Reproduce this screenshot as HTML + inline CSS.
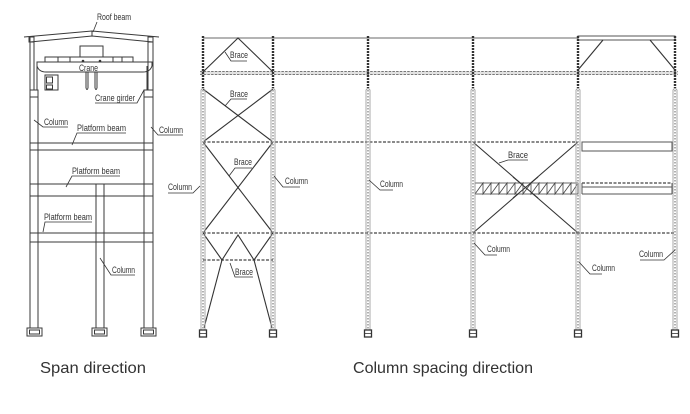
<!DOCTYPE html>
<html>
<head>
<meta charset="utf-8">
<style>
html,body{margin:0;padding:0;background:#fff;}
svg{display:block;}
.l{font-family:"Liberation Sans Narrow","Liberation Sans",sans-serif;font-size:9px;fill:#333;}
.cap{font-family:"Liberation Sans",sans-serif;font-size:16px;fill:#333;}
</style>
</head>
<body>
<svg width="690" height="414" viewBox="0 0 690 414" xmlns="http://www.w3.org/2000/svg">
<rect width="690" height="414" fill="#fff"/>

<!-- ================= LEFT FRAME ================= -->
<g stroke="#3a3a3a" stroke-width="1" fill="none">
  <polyline points="24,37 92,31 159,37"/>
  <polyline points="30,42 92,36 153,42"/>
  <line x1="92" y1="31" x2="92" y2="36"/>
  <rect x="29" y="37" width="5" height="5"/>
  <rect x="148" y="37" width="5" height="5"/>
  <line x1="30" y1="37" x2="30" y2="90"/>
  <line x1="34" y1="42" x2="34" y2="90"/>
  <line x1="148" y1="42" x2="148" y2="90"/>
  <line x1="153" y1="37" x2="153" y2="90"/>
  <rect x="30" y="90" width="8" height="7"/>
  <rect x="144" y="90" width="9" height="7"/>
  <line x1="30" y1="97" x2="30" y2="328"/>
  <line x1="38" y1="97" x2="38" y2="328"/>
  <line x1="144" y1="97" x2="144" y2="328"/>
  <line x1="153" y1="97" x2="153" y2="328"/>
  <line x1="96" y1="184" x2="96" y2="328"/>
  <line x1="104" y1="184" x2="104" y2="328"/>
  <line x1="30" y1="143" x2="153" y2="143"/>
  <line x1="30" y1="150" x2="153" y2="150"/>
  <line x1="30" y1="184" x2="153" y2="184"/>
  <line x1="30" y1="196" x2="153" y2="196"/>
  <line x1="30" y1="233" x2="153" y2="233"/>
  <line x1="30" y1="242" x2="153" y2="242"/>
  <rect x="27" y="328" width="15" height="8"/>
  <rect x="29.5" y="330" width="10" height="4"/>
  <rect x="92" y="328" width="15" height="8"/>
  <rect x="94.5" y="330" width="10" height="4"/>
  <rect x="141" y="328" width="15" height="8"/>
  <rect x="143.5" y="330" width="10" height="4"/>
  <rect x="45" y="57" width="88" height="5"/>
  <line x1="58" y1="57" x2="58" y2="62"/>
  <line x1="70" y1="57" x2="70" y2="62"/>
  <line x1="113" y1="57" x2="113" y2="62"/>
  <line x1="122" y1="57" x2="122" y2="62"/>
  <rect x="80" y="46" width="23" height="11"/>
  <path d="M37,62 L152,62 L152,66 Q150,72 143,72 L46,72 Q39,72 37,66 Z"/>
  <line x1="37" y1="66" x2="37" y2="90"/>
  <line x1="147" y1="66" x2="147" y2="90"/>
  <line x1="86" y1="72" x2="86" y2="88"/>
  <line x1="88" y1="72" x2="88" y2="88"/>
  <path d="M86,88 Q87,91 88,88"/>
  <line x1="95" y1="72" x2="95" y2="88"/>
  <line x1="97" y1="72" x2="97" y2="88"/>
  <path d="M95,88 Q96,91 97,88"/>
  <rect x="45" y="75" width="13" height="15"/>
  <rect x="46.5" y="77" width="6" height="6"/>
  <rect x="46.5" y="85" width="6" height="4"/>
</g>
<circle cx="83" cy="61" r="1.3" fill="#333"/>
<circle cx="100" cy="61" r="1.3" fill="#333"/>

<g stroke="#333" stroke-width="0.8" fill="none">
  <line x1="93" y1="32" x2="97" y2="22"/>
  <polyline points="144,90 137,103 95,103"/>
  <polyline points="34,120 43,127 68,127"/>
  <polyline points="72,145 77,133 126,133"/>
  <polyline points="151,127 158,135 183,135"/>
  <polyline points="66,187 72,176 120,176"/>
  <polyline points="43,232 45,222 92,222"/>
  <polyline points="100,258 111,275 135,275"/>
</g>
<text class="l" x="97" y="20" textLength="34" lengthAdjust="spacingAndGlyphs">Roof beam</text>
<text class="l" x="79" y="71" textLength="19" lengthAdjust="spacingAndGlyphs">Crane</text>
<text class="l" x="95" y="101" textLength="40" lengthAdjust="spacingAndGlyphs">Crane girder</text>
<text class="l" x="44" y="125" textLength="24" lengthAdjust="spacingAndGlyphs">Column</text>
<text class="l" x="77" y="131" textLength="49" lengthAdjust="spacingAndGlyphs">Platform beam</text>
<text class="l" x="159" y="133" textLength="24" lengthAdjust="spacingAndGlyphs">Column</text>
<text class="l" x="72" y="174" textLength="48" lengthAdjust="spacingAndGlyphs">Platform beam</text>
<text class="l" x="44" y="220" textLength="48" lengthAdjust="spacingAndGlyphs">Platform beam</text>
<text class="l" x="112" y="273" textLength="23" lengthAdjust="spacingAndGlyphs">Column</text>

<!-- ================= RIGHT FRAME ================= -->
<line x1="203" y1="38" x2="578" y2="38" stroke="#888" stroke-width="1.2"/>
<rect x="578" y="36" width="97" height="4" fill="none" stroke="#555" stroke-width="1"/>
<rect x="200" y="71.5" width="478" height="3" fill="#e2e2e2"/>
<line x1="200" y1="71.5" x2="678" y2="71.5" stroke="#777" stroke-width="0.9" stroke-dasharray="2.5,1.2"/>
<line x1="200" y1="74.5" x2="678" y2="74.5" stroke="#777" stroke-width="0.9" stroke-dasharray="2.5,1.2"/>

<g stroke="#444" stroke-width="1.2" stroke-dasharray="3,1.5" fill="none">
  <line x1="203" y1="142" x2="578" y2="142"/>
  <line x1="203" y1="233" x2="675" y2="233"/>
  <line x1="203" y1="260" x2="273" y2="260"/>
  <line x1="582" y1="183" x2="672" y2="183"/>
</g>
<g stroke="#555" stroke-width="1" fill="none">
  <rect x="582" y="142" width="90" height="9"/>
  <line x1="582" y1="187" x2="672" y2="187"/>
  <line x1="582" y1="194" x2="672" y2="194"/>
  <line x1="582" y1="183" x2="582" y2="194"/>
  <line x1="672" y1="183" x2="672" y2="194"/>
</g>

<g stroke="#333" stroke-width="1.1" fill="none">
  <polyline points="203,72 238,38 273,72"/>
  <line x1="203" y1="89" x2="273" y2="142"/>
  <line x1="273" y1="89" x2="203" y2="142"/>
  <line x1="203" y1="142" x2="273" y2="233"/>
  <line x1="273" y1="142" x2="203" y2="233"/>
  <polyline points="203,233 222,260 238,235 254,260 273,233"/>
  <line x1="222" y1="260" x2="204" y2="328"/>
  <line x1="254" y1="260" x2="272" y2="328"/>
  <line x1="473" y1="142" x2="578" y2="233"/>
  <line x1="578" y1="142" x2="473" y2="233"/>
  <line x1="578" y1="70" x2="603" y2="40"/>
  <line x1="650" y1="40" x2="675" y2="70"/>
</g>

<!-- truss -->
<g stroke="#444" stroke-width="0.8" fill="none">
  <rect x="475" y="183" width="103" height="11" fill="#fff"/>
  <path d="M475,194 L483,183 L483,194 L491,183 L491,194 L499,183 L499,194 L507,183 L507,194 L515,183 L515,194 L523,183 L523,194 L531,183 L531,194 L539,183 L539,194 L547,183 L547,194 L555,183 L555,194 L563,183 L563,194 L571,183 L571,194 L578,183"/>
</g>
<line x1="513" y1="177" x2="538" y2="198" stroke="#333" stroke-width="1.1"/>
<line x1="538" y1="177" x2="513" y2="198" stroke="#333" stroke-width="1.1"/>

<!-- columns -->
<g stroke-width="1" fill="none">
  <g stroke="#333" stroke-width="2.4" stroke-dasharray="2,1">
    <line x1="203" y1="36" x2="203" y2="88"/>
    <line x1="273" y1="36" x2="273" y2="88"/>
    <line x1="368" y1="36" x2="368" y2="88"/>
    <line x1="473" y1="36" x2="473" y2="88"/>
    <line x1="578" y1="36" x2="578" y2="88"/>
    <line x1="675" y1="36" x2="675" y2="88"/>
  </g>
  <g stroke="#a0a0a0" stroke-width="0.9">
    <path d="M201,330 L201,90 Q203,87 205,90 L205,330"/>
    <path d="M271,330 L271,90 Q273,87 275,90 L275,330"/>
    <path d="M366,330 L366,90 Q368,87 370,90 L370,330"/>
    <path d="M471,330 L471,90 Q473,87 475,90 L475,330"/>
    <path d="M576,330 L576,90 Q578,87 580,90 L580,330"/>
    <path d="M673,330 L673,90 Q675,87 677,90 L677,330"/>
  </g>
  <g stroke="#b0b0b0" stroke-width="2" stroke-dasharray="1.5,1.5">
    <line x1="203" y1="90" x2="203" y2="330"/>
    <line x1="273" y1="90" x2="273" y2="330"/>
    <line x1="368" y1="90" x2="368" y2="330"/>
    <line x1="473" y1="90" x2="473" y2="330"/>
    <line x1="578" y1="90" x2="578" y2="330"/>
    <line x1="675" y1="90" x2="675" y2="330"/>
  </g>
  <g stroke="#333" stroke-width="1.3" fill="#fff">
    <rect x="199.5" y="330" width="7" height="7"/>
    <rect x="269.5" y="330" width="7" height="7"/>
    <rect x="364.5" y="330" width="7" height="7"/>
    <rect x="469.5" y="330" width="7" height="7"/>
    <rect x="574.5" y="330" width="7" height="7"/>
    <rect x="671.5" y="330" width="7" height="7"/>
  </g>
  <g stroke="#333" stroke-width="0.8">
    <line x1="200" y1="333.5" x2="206" y2="333.5"/>
    <line x1="270" y1="333.5" x2="276" y2="333.5"/>
    <line x1="365" y1="333.5" x2="371" y2="333.5"/>
    <line x1="470" y1="333.5" x2="476" y2="333.5"/>
    <line x1="575" y1="333.5" x2="581" y2="333.5"/>
    <line x1="672" y1="333.5" x2="678" y2="333.5"/>
  </g>
</g>

<g stroke="#333" stroke-width="0.8" fill="none">
  <polyline points="225,52 231,61 247,61"/>
  <polyline points="225,106 231,99 247,99"/>
  <polyline points="229,176 235,168 252,168"/>
  <polyline points="230,263 235,277 253,277"/>
  <polyline points="499,163 508,160 528,160"/>
  <polyline points="200,186 193,193 168,193"/>
  <polyline points="274,176 283,187 300,187"/>
  <polyline points="369,180 380,190 393,190"/>
  <polyline points="474,243 485,255 497,255"/>
  <polyline points="579,262 590,274 602,274"/>
  <polyline points="675,250 664,260 640,260"/>
</g>
<text class="l" x="230" y="58" textLength="18" lengthAdjust="spacingAndGlyphs">Brace</text>
<text class="l" x="230" y="97" textLength="18" lengthAdjust="spacingAndGlyphs">Brace</text>
<text class="l" x="234" y="165" textLength="18" lengthAdjust="spacingAndGlyphs">Brace</text>
<text class="l" x="235" y="275" textLength="18" lengthAdjust="spacingAndGlyphs">Brace</text>
<text class="l" x="508" y="158" textLength="20" lengthAdjust="spacingAndGlyphs">Brace</text>
<text class="l" x="168" y="190" textLength="24" lengthAdjust="spacingAndGlyphs">Column</text>
<text class="l" x="285" y="184" textLength="23" lengthAdjust="spacingAndGlyphs">Column</text>
<text class="l" x="380" y="187" textLength="23" lengthAdjust="spacingAndGlyphs">Column</text>
<text class="l" x="487" y="252" textLength="23" lengthAdjust="spacingAndGlyphs">Column</text>
<text class="l" x="592" y="271" textLength="23" lengthAdjust="spacingAndGlyphs">Column</text>
<text class="l" x="639" y="257" textLength="24" lengthAdjust="spacingAndGlyphs">Column</text>

<text class="cap" x="40" y="373" textLength="106" lengthAdjust="spacingAndGlyphs">Span direction</text>
<text class="cap" x="353" y="373" textLength="180" lengthAdjust="spacingAndGlyphs">Column spacing direction</text>
</svg>
</body>
</html>
